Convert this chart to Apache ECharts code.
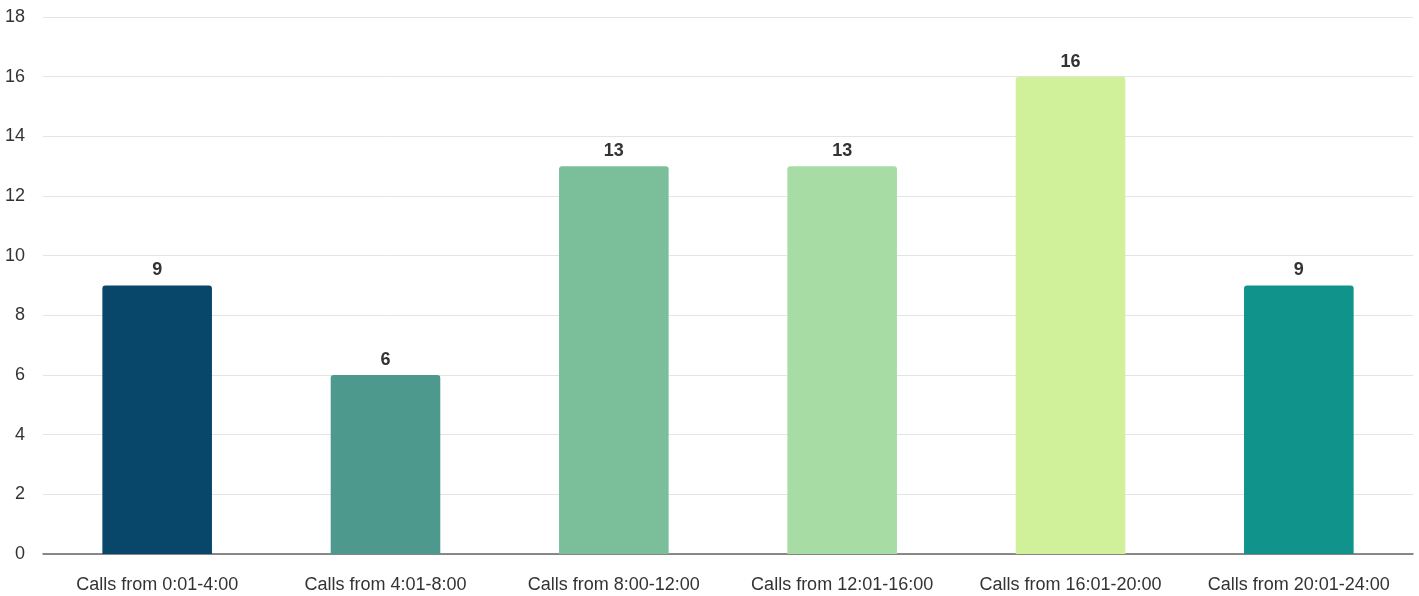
<!DOCTYPE html>
<html><head><meta charset="utf-8">
<script src="https://cdn.jsdelivr.net/npm/echarts@6/dist/echarts.min.js"></script>
<style>html,body{margin:0;padding:0;background:#fff}#c{width:1419px;height:596px}</style>
</head><body><div id="c"></div>
<script>
const categories = ["Calls from 0:01-4:00","Calls from 4:01-8:00","Calls from 8:00-12:00","Calls from 12:01-16:00","Calls from 16:01-20:00","Calls from 20:01-24:00"];
const values = [9, 6, 13, 13, 16, 9];
const colors = ["#08476A","#4E998D","#7BBF9A","#A7DCA5","#D0F19A","#0F938A"];
const FONT = "Liberation Sans, Arial, sans-serif";
const chart = echarts.init(document.getElementById('c'));
chart.setOption({
  animation:false,
  grid:{left:43,right:6,top:17,bottom:42,containLabel:false},
  xAxis:{type:'category',data:categories,
    axisLine:{lineStyle:{color:'#666',width:1.5}},axisTick:{show:false},
    axisLabel:{color:'#333',fontSize:18,fontFamily:FONT,margin:22,interval:0}},
  yAxis:{type:'value',min:0,max:18,interval:2,
    axisLine:{show:false},axisTick:{show:false},
    splitLine:{lineStyle:{color:'#e4e4e4',width:1}},
    axisLabel:{color:'#333',fontSize:18,fontFamily:FONT,margin:18,align:'right'}},
  series:[{type:'bar',barWidth:'48%',
    data:values.map((v,i)=>({value:v,itemStyle:{color:colors[i]}})),
    itemStyle:{borderRadius:[3,3,0,0]},
    label:{show:true,position:'top',distance:6,color:'#333',fontWeight:'bold',fontSize:18,fontFamily:FONT}}]
});
</script></body></html>
